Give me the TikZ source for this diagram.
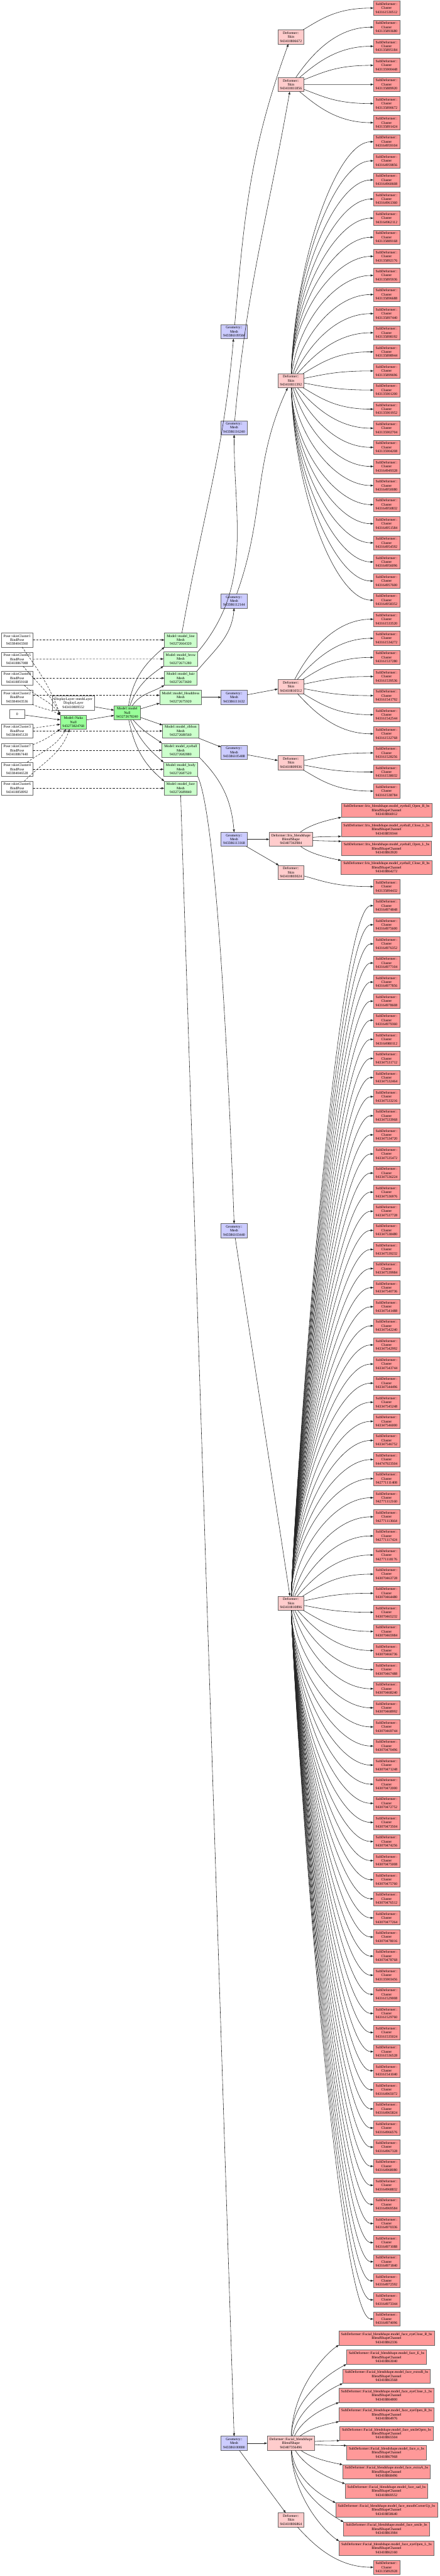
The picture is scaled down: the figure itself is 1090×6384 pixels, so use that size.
\documentclass[tikz,border=0pt]{standalone}
\usepackage{fontspec}
\setmainfont{Liberation Serif}
\usetikzlibrary{arrows.meta,calc}

\definecolor{nullgreen}{RGB}{153,255,153}
\definecolor{meshgreen}{RGB}{204,255,204}
\definecolor{geomblue}{RGB}{204,204,255}
\definecolor{defpink}{RGB}{255,204,204}
\definecolor{subred}{RGB}{255,153,153}

% row of the right-hand column
\newcommand{\rowy}[1]{20+47.33*#1}

% deformer -> cluster, leaves steeply and lands flat on the west side
\newcommand{\fanedge}[2]{%
  \draw[flow] let \p1=(#1.center), \p2=(#2.west),
    \n1={atan2(\y2-\y1,\x2-\x1)},
    \n2={max(-88,min(88,1.6*\n1))},
    \n3={min(56,max(0.5*abs(\y2-\y1),0.25*(\x2-\x1)))},
    \n4={0.45*(\x2-\x1)}
  in (#1) to[out=\n2, in=180, out distance=\n3, in distance=\n4] (#2.west);}

% blendshape -> channel, lands on a corner
\newcommand{\bsedge}[2]{%
  \draw[flow] let \p1=(#1.center), \p2=(#2),
    \n1={atan2(\y2-\y1,\x2-\x1)},
    \n2={max(-88,min(88,1.6*\n1))},
    \n3={min(56,max(0.5*abs(\y2-\y1),0.25*(\x2-\x1)))},
    \n4={0.3*(\x2-\x1)},
    \n5={180+0.5*\n1}
  in (#1) to[out=\n2, in=\n5, out distance=\n3, in distance=\n4] (#2);}

\begin{document}
\begin{tikzpicture}[
  x=0.2pt, y=-0.2pt,
  font=\fontsize{1.8}{2}\selectfont,
  blk/.style={
    draw=black!60,
    line width=0.2pt,
    align=center,
    inner xsep=1.1pt,
    inner ysep=0.4pt,
    minimum height=7pt,
    outer sep=0pt,
    text=black
  },
  posebox/.style={blk, fill=white},
  zerobox/.style={blk, fill=white, minimum height=4.6pt, minimum width=7.4pt},
  nullbox/.style={blk, fill=nullgreen},
  meshbox/.style={blk, fill=meshgreen},
  geombox/.style={blk, fill=geomblue},
  defbox/.style={blk, fill=defpink},
  subbox/.style={blk, fill=subred},
  flow/.style={
    line width=0.18pt,
    black!85,
    -{Triangle[length=1.4pt,width=1pt]}
  },
  poseflow/.style={flow, dash pattern=on 1pt off 0.65pt}
]

\path[use as bounding box, fill=white] (0,0) rectangle (1090,6384);

% bind poses
\node[posebox] (pcl1) at (42.5,1586) {Pose::skinCluster1\\BindPose\\943384043360};
\node[posebox] (pcl5) at (42.5,1633.5) {Pose::skinCluster5\\BindPose\\943418867088};
\node[posebox] (pcl8) at (42.5,1680.5) {Pose::skinCluster8\\BindPose\\943418859168};
\node[posebox] (pcl2) at (42.5,1728) {Pose::skinCluster2\\BindPose\\943384043536};
\node[zerobox] (zero) at (42.5,1769.5) {0};
\node[posebox] (pcl3) at (42.5,1811.5) {Pose::skinCluster3\\BindPose\\943384045120};
\node[posebox] (pcl7) at (42.5,1859.5) {Pose::skinCluster7\\BindPose\\943418867440};
\node[posebox] (pcl4) at (42.5,1906.5) {Pose::skinCluster4\\BindPose\\943384046528};
\node[posebox] (pcl6) at (42.5,1953.5) {Pose::skinCluster6\\BindPose\\943418858992};

\node[posebox] (dlayer) at (182,1742.5) {DisplayLayer::meshLayer\\DisplayLayer\\943410809552};
\node[nullbox] (naka) at (182,1789.5) {Model::Naka\\Null\\943273824768};
\node[nullbox] (mdl) at (315.5,1766.5) {Model::model\\Null\\943272678240};

% meshes
\node[meshbox] (mline) at (448,1586) {Model::model\_line\\Mesh\\943272664320};
\node[meshbox] (mbrow) at (448,1633) {Model::model\_brow\\Mesh\\943272671280};
\node[meshbox] (mhair) at (448,1680.5) {Model::model\_hair\\Mesh\\943272673600};
\node[meshbox] (mhead) at (448,1728) {Model::model\_Headdress\\Mesh\\943272675920};
\node[meshbox] (mribbon) at (448,1811.5) {Model::model\_ribbon\\Mesh\\943272680560};
\node[meshbox] (meyeball) at (448,1859.5) {Model::model\_eyeball\\Mesh\\943272682880};
\node[meshbox] (mbody) at (448,1906.5) {Model::model\_body\\Mesh\\943272687520};
\node[meshbox] (mface) at (448,1953.5) {Model::model\_face\\Mesh\\943272689840};

% geometry
\node[geombox] (gline) at (580.5,822) {Geometry::\\Mesh\\943386109584};
\node[geombox] (gbrow) at (580.5,1060) {Geometry::\\Mesh\\943386116240};
\node[geombox] (ghair) at (580.5,1489.5) {Geometry::\\Mesh\\943386112144};
\node[geombox] (ghead) at (580.5,1728) {Geometry::\\Mesh\\943386111632};
\node[geombox] (gribbon) at (580.5,1864.5) {Geometry::\\Mesh\\943386105488};
\node[geombox] (geyeball) at (580.5,2080) {Geometry::\\Mesh\\943386113168};
\node[geombox] (gbody) at (580.5,3050) {Geometry::\\Mesh\\943386103440};
\node[geombox] (gface) at (580.5,6055) {Geometry::\\Mesh\\943386100880};

% deformers
\node[defbox] (sk6672) at (721.5,91.5) {Deformer::\\Skin\\943410806672};
\node[defbox] (sk1856) at (721.5,209.5) {Deformer::\\Skin\\943410811856};
\node[defbox] (sk1392) at (721.5,943.5) {Deformer::\\Skin\\943410811392};
\node[defbox] (sk0512) at (721.5,1701.5) {Deformer::\\Skin\\943410810512};
\node[defbox] (sk9936) at (721.5,1890.5) {Deformer::\\Skin\\943410809936};
\node[defbox] (irisbs) at (721.5,2080) {Deformer::Iris\_blendshape\\BlendShape\\943407363984};
\node[defbox] (sk3024) at (721.5,2162) {Deformer::\\Skin\\943410803024};
\node[defbox] (sk0896) at (721.5,3973) {Deformer::\\Skin\\943410810896};
\node[defbox] (facebs) at (721.5,6055) {Deformer::Facial\_blendshape\\BlendShape\\943407356496};
\node[defbox] (sk6864) at (721.5,6245) {Deformer::\\Skin\\943410806864};

% clusters and channels
\node[subbox] (c0) at (958.5,{\rowy{0}}) {SubDeformer::\\Cluster\\943161530512};
\node[subbox] (c1) at (958.5,{\rowy{1}}) {SubDeformer::\\Cluster\\943135893680};
\node[subbox] (c2) at (958.5,{\rowy{2}}) {SubDeformer::\\Cluster\\943135895184};
\node[subbox] (c3) at (958.5,{\rowy{3}}) {SubDeformer::\\Cluster\\943135900448};
\node[subbox] (c4) at (958.5,{\rowy{4}}) {SubDeformer::\\Cluster\\943135889920};
\node[subbox] (c5) at (958.5,{\rowy{5}}) {SubDeformer::\\Cluster\\943135890672};
\node[subbox] (c6) at (958.5,{\rowy{6}}) {SubDeformer::\\Cluster\\943135891424};
\node[subbox] (c7) at (958.5,{\rowy{7}}) {SubDeformer::\\Cluster\\943164959104};
\node[subbox] (c8) at (958.5,{\rowy{8}}) {SubDeformer::\\Cluster\\943164959856};
\node[subbox] (c9) at (958.5,{\rowy{9}}) {SubDeformer::\\Cluster\\943164960608};
\node[subbox] (c10) at (958.5,{\rowy{10}}) {SubDeformer::\\Cluster\\943164961360};
\node[subbox] (c11) at (958.5,{\rowy{11}}) {SubDeformer::\\Cluster\\943164962112};
\node[subbox] (c12) at (958.5,{\rowy{12}}) {SubDeformer::\\Cluster\\943135889168};
\node[subbox] (c13) at (958.5,{\rowy{13}}) {SubDeformer::\\Cluster\\943135892176};
\node[subbox] (c14) at (958.5,{\rowy{14}}) {SubDeformer::\\Cluster\\943135895936};
\node[subbox] (c15) at (958.5,{\rowy{15}}) {SubDeformer::\\Cluster\\943135896688};
\node[subbox] (c16) at (958.5,{\rowy{16}}) {SubDeformer::\\Cluster\\943135897440};
\node[subbox] (c17) at (958.5,{\rowy{17}}) {SubDeformer::\\Cluster\\943135898192};
\node[subbox] (c18) at (958.5,{\rowy{18}}) {SubDeformer::\\Cluster\\943135898944};
\node[subbox] (c19) at (958.5,{\rowy{19}}) {SubDeformer::\\Cluster\\943135899696};
\node[subbox] (c20) at (958.5,{\rowy{20}}) {SubDeformer::\\Cluster\\943135901200};
\node[subbox] (c21) at (958.5,{\rowy{21}}) {SubDeformer::\\Cluster\\943135901952};
\node[subbox] (c22) at (958.5,{\rowy{22}}) {SubDeformer::\\Cluster\\943135902704};
\node[subbox] (c23) at (958.5,{\rowy{23}}) {SubDeformer::\\Cluster\\943135904208};
\node[subbox] (c24) at (958.5,{\rowy{24}}) {SubDeformer::\\Cluster\\943164949328};
\node[subbox] (c25) at (958.5,{\rowy{25}}) {SubDeformer::\\Cluster\\943164950080};
\node[subbox] (c26) at (958.5,{\rowy{26}}) {SubDeformer::\\Cluster\\943164950832};
\node[subbox] (c27) at (958.5,{\rowy{27}}) {SubDeformer::\\Cluster\\943164951584};
\node[subbox] (c28) at (958.5,{\rowy{28}}) {SubDeformer::\\Cluster\\943164954592};
\node[subbox] (c29) at (958.5,{\rowy{29}}) {SubDeformer::\\Cluster\\943164956096};
\node[subbox] (c30) at (958.5,{\rowy{30}}) {SubDeformer::\\Cluster\\943164957600};
\node[subbox] (c31) at (958.5,{\rowy{31}}) {SubDeformer::\\Cluster\\943164958352};
\node[subbox] (c32) at (958.5,{\rowy{32}}) {SubDeformer::\\Cluster\\943161533520};
\node[subbox] (c33) at (958.5,{\rowy{33}}) {SubDeformer::\\Cluster\\943161534272};
\node[subbox] (c34) at (958.5,{\rowy{34}}) {SubDeformer::\\Cluster\\943161537280};
\node[subbox] (c35) at (958.5,{\rowy{35}}) {SubDeformer::\\Cluster\\943161539536};
\node[subbox] (c36) at (958.5,{\rowy{36}}) {SubDeformer::\\Cluster\\943161541792};
\node[subbox] (c37) at (958.5,{\rowy{37}}) {SubDeformer::\\Cluster\\943161542544};
\node[subbox] (c38) at (958.5,{\rowy{38}}) {SubDeformer::\\Cluster\\943161532768};
\node[subbox] (c39) at (958.5,{\rowy{39}}) {SubDeformer::\\Cluster\\943161528256};
\node[subbox] (c40) at (958.5,{\rowy{40}}) {SubDeformer::\\Cluster\\943161538032};
\node[subbox] (c41) at (958.5,{\rowy{41}}) {SubDeformer::\\Cluster\\943161538784};
\node[subbox] (c42) at (958.5,{\rowy{42}}) {SubDeformer::Iris\_blendshape.model\_eyeball\_Open\_R\_bs\\BlendShapeChannel\\943418866912};
\node[subbox] (c43) at (958.5,{\rowy{43}}) {SubDeformer::Iris\_blendshape.model\_eyeball\_Close\_L\_bs\\BlendShapeChannel\\943418859344};
\node[subbox] (c44) at (958.5,{\rowy{44}}) {SubDeformer::Iris\_blendshape.model\_eyeball\_Open\_L\_bs\\BlendShapeChannel\\943418863920};
\node[subbox] (c45) at (958.5,{\rowy{45}}) {SubDeformer::Iris\_blendshape.model\_eyeball\_Close\_R\_bs\\BlendShapeChannel\\943418864272};
\node[subbox] (c46) at (958.5,{\rowy{46}}) {SubDeformer::\\Cluster\\943135894432};
\node[subbox] (c47) at (958.5,{\rowy{47}}) {SubDeformer::\\Cluster\\943164974848};
\node[subbox] (c48) at (958.5,{\rowy{48}}) {SubDeformer::\\Cluster\\943164975600};
\node[subbox] (c49) at (958.5,{\rowy{49}}) {SubDeformer::\\Cluster\\943164976352};
\node[subbox] (c50) at (958.5,{\rowy{50}}) {SubDeformer::\\Cluster\\943164977104};
\node[subbox] (c51) at (958.5,{\rowy{51}}) {SubDeformer::\\Cluster\\943164977856};
\node[subbox] (c52) at (958.5,{\rowy{52}}) {SubDeformer::\\Cluster\\943164978608};
\node[subbox] (c53) at (958.5,{\rowy{53}}) {SubDeformer::\\Cluster\\943164979360};
\node[subbox] (c54) at (958.5,{\rowy{54}}) {SubDeformer::\\Cluster\\943164980112};
\node[subbox] (c55) at (958.5,{\rowy{55}}) {SubDeformer::\\Cluster\\943347531712};
\node[subbox] (c56) at (958.5,{\rowy{56}}) {SubDeformer::\\Cluster\\943347532464};
\node[subbox] (c57) at (958.5,{\rowy{57}}) {SubDeformer::\\Cluster\\943347533216};
\node[subbox] (c58) at (958.5,{\rowy{58}}) {SubDeformer::\\Cluster\\943347533968};
\node[subbox] (c59) at (958.5,{\rowy{59}}) {SubDeformer::\\Cluster\\943347534720};
\node[subbox] (c60) at (958.5,{\rowy{60}}) {SubDeformer::\\Cluster\\943347535472};
\node[subbox] (c61) at (958.5,{\rowy{61}}) {SubDeformer::\\Cluster\\943347536224};
\node[subbox] (c62) at (958.5,{\rowy{62}}) {SubDeformer::\\Cluster\\943347536976};
\node[subbox] (c63) at (958.5,{\rowy{63}}) {SubDeformer::\\Cluster\\943347537728};
\node[subbox] (c64) at (958.5,{\rowy{64}}) {SubDeformer::\\Cluster\\943347538480};
\node[subbox] (c65) at (958.5,{\rowy{65}}) {SubDeformer::\\Cluster\\943347539232};
\node[subbox] (c66) at (958.5,{\rowy{66}}) {SubDeformer::\\Cluster\\943347539984};
\node[subbox] (c67) at (958.5,{\rowy{67}}) {SubDeformer::\\Cluster\\943347540736};
\node[subbox] (c68) at (958.5,{\rowy{68}}) {SubDeformer::\\Cluster\\943347541488};
\node[subbox] (c69) at (958.5,{\rowy{69}}) {SubDeformer::\\Cluster\\943347542240};
\node[subbox] (c70) at (958.5,{\rowy{70}}) {SubDeformer::\\Cluster\\943347542992};
\node[subbox] (c71) at (958.5,{\rowy{71}}) {SubDeformer::\\Cluster\\943347543744};
\node[subbox] (c72) at (958.5,{\rowy{72}}) {SubDeformer::\\Cluster\\943347544496};
\node[subbox] (c73) at (958.5,{\rowy{73}}) {SubDeformer::\\Cluster\\943347545248};
\node[subbox] (c74) at (958.5,{\rowy{74}}) {SubDeformer::\\Cluster\\943347546000};
\node[subbox] (c75) at (958.5,{\rowy{75}}) {SubDeformer::\\Cluster\\943347546752};
\node[subbox] (c76) at (958.5,{\rowy{76}}) {SubDeformer::\\Cluster\\944747923504};
\node[subbox] (c77) at (958.5,{\rowy{77}}) {SubDeformer::\\Cluster\\942771111408};
\node[subbox] (c78) at (958.5,{\rowy{78}}) {SubDeformer::\\Cluster\\942771112160};
\node[subbox] (c79) at (958.5,{\rowy{79}}) {SubDeformer::\\Cluster\\942771113664};
\node[subbox] (c80) at (958.5,{\rowy{80}}) {SubDeformer::\\Cluster\\942771117424};
\node[subbox] (c81) at (958.5,{\rowy{81}}) {SubDeformer::\\Cluster\\942771118176};
\node[subbox] (c82) at (958.5,{\rowy{82}}) {SubDeformer::\\Cluster\\943070463728};
\node[subbox] (c83) at (958.5,{\rowy{83}}) {SubDeformer::\\Cluster\\943070464480};
\node[subbox] (c84) at (958.5,{\rowy{84}}) {SubDeformer::\\Cluster\\943070465232};
\node[subbox] (c85) at (958.5,{\rowy{85}}) {SubDeformer::\\Cluster\\943070465984};
\node[subbox] (c86) at (958.5,{\rowy{86}}) {SubDeformer::\\Cluster\\943070466736};
\node[subbox] (c87) at (958.5,{\rowy{87}}) {SubDeformer::\\Cluster\\943070467488};
\node[subbox] (c88) at (958.5,{\rowy{88}}) {SubDeformer::\\Cluster\\943070468240};
\node[subbox] (c89) at (958.5,{\rowy{89}}) {SubDeformer::\\Cluster\\943070468992};
\node[subbox] (c90) at (958.5,{\rowy{90}}) {SubDeformer::\\Cluster\\943070469744};
\node[subbox] (c91) at (958.5,{\rowy{91}}) {SubDeformer::\\Cluster\\943070470496};
\node[subbox] (c92) at (958.5,{\rowy{92}}) {SubDeformer::\\Cluster\\943070471248};
\node[subbox] (c93) at (958.5,{\rowy{93}}) {SubDeformer::\\Cluster\\943070472000};
\node[subbox] (c94) at (958.5,{\rowy{94}}) {SubDeformer::\\Cluster\\943070472752};
\node[subbox] (c95) at (958.5,{\rowy{95}}) {SubDeformer::\\Cluster\\943070473504};
\node[subbox] (c96) at (958.5,{\rowy{96}}) {SubDeformer::\\Cluster\\943070474256};
\node[subbox] (c97) at (958.5,{\rowy{97}}) {SubDeformer::\\Cluster\\943070475008};
\node[subbox] (c98) at (958.5,{\rowy{98}}) {SubDeformer::\\Cluster\\943070475760};
\node[subbox] (c99) at (958.5,{\rowy{99}}) {SubDeformer::\\Cluster\\943070476512};
\node[subbox] (c100) at (958.5,{\rowy{100}}) {SubDeformer::\\Cluster\\943070477264};
\node[subbox] (c101) at (958.5,{\rowy{101}}) {SubDeformer::\\Cluster\\943070478016};
\node[subbox] (c102) at (958.5,{\rowy{102}}) {SubDeformer::\\Cluster\\943070478768};
\node[subbox] (c103) at (958.5,{\rowy{103}}) {SubDeformer::\\Cluster\\943135903456};
\node[subbox] (c104) at (958.5,{\rowy{104}}) {SubDeformer::\\Cluster\\943161529008};
\node[subbox] (c105) at (958.5,{\rowy{105}}) {SubDeformer::\\Cluster\\943161529760};
\node[subbox] (c106) at (958.5,{\rowy{106}}) {SubDeformer::\\Cluster\\943161535024};
\node[subbox] (c107) at (958.5,{\rowy{107}}) {SubDeformer::\\Cluster\\943161536528};
\node[subbox] (c108) at (958.5,{\rowy{108}}) {SubDeformer::\\Cluster\\943161541040};
\node[subbox] (c109) at (958.5,{\rowy{109}}) {SubDeformer::\\Cluster\\943164965072};
\node[subbox] (c110) at (958.5,{\rowy{110}}) {SubDeformer::\\Cluster\\943164965824};
\node[subbox] (c111) at (958.5,{\rowy{111}}) {SubDeformer::\\Cluster\\943164966576};
\node[subbox] (c112) at (958.5,{\rowy{112}}) {SubDeformer::\\Cluster\\943164967328};
\node[subbox] (c113) at (958.5,{\rowy{113}}) {SubDeformer::\\Cluster\\943164968080};
\node[subbox] (c114) at (958.5,{\rowy{114}}) {SubDeformer::\\Cluster\\943164968832};
\node[subbox] (c115) at (958.5,{\rowy{115}}) {SubDeformer::\\Cluster\\943164969584};
\node[subbox] (c116) at (958.5,{\rowy{116}}) {SubDeformer::\\Cluster\\943164970336};
\node[subbox] (c117) at (958.5,{\rowy{117}}) {SubDeformer::\\Cluster\\943164971088};
\node[subbox] (c118) at (958.5,{\rowy{118}}) {SubDeformer::\\Cluster\\943164971840};
\node[subbox] (c119) at (958.5,{\rowy{119}}) {SubDeformer::\\Cluster\\943164972592};
\node[subbox] (c120) at (958.5,{\rowy{120}}) {SubDeformer::\\Cluster\\943164973344};
\node[subbox] (c121) at (958.5,{\rowy{121}}) {SubDeformer::\\Cluster\\943164974096};
\node[subbox] (c122) at (958.5,{\rowy{122}}) {SubDeformer::Facial\_blendshape.model\_face\_eyeClose\_R\_bs\\BlendShapeChannel\\943418862336};
\node[subbox] (c123) at (958.5,{\rowy{123}}) {SubDeformer::Facial\_blendshape.model\_face\_E\_bs\\BlendShapeChannel\\943418863040};
\node[subbox] (c124) at (958.5,{\rowy{124}}) {SubDeformer::Facial\_blendshape.model\_face\_extraB\_bs\\BlendShapeChannel\\943418863568};
\node[subbox] (c125) at (958.5,{\rowy{125}}) {SubDeformer::Facial\_blendshape.model\_face\_eyeClose\_L\_bs\\BlendShapeChannel\\943418864800};
\node[subbox] (c126) at (958.5,{\rowy{126}}) {SubDeformer::Facial\_blendshape.model\_face\_eyeOpen\_R\_bs\\BlendShapeChannel\\943418864976};
\node[subbox] (c127) at (958.5,{\rowy{127}}) {SubDeformer::Facial\_blendshape.model\_face\_smileOpen\_bs\\BlendShapeChannel\\943418865504};
\node[subbox] (c128) at (958.5,{\rowy{128}}) {SubDeformer::Facial\_blendshape.model\_face\_o\_bs\\BlendShapeChannel\\943418867968};
\node[subbox] (c129) at (958.5,{\rowy{129}}) {SubDeformer::Facial\_blendshape.model\_face\_extraA\_bs\\BlendShapeChannel\\943418868496};
\node[subbox] (c130) at (958.5,{\rowy{130}}) {SubDeformer::Facial\_blendshape.model\_face\_sad\_bs\\BlendShapeChannel\\943418869552};
\node[subbox] (c131) at (958.5,{\rowy{131}}) {SubDeformer::Facial\_blendshape.model\_face\_mouthCornerUp\_bs\\BlendShapeChannel\\943418858640};
\node[subbox] (c132) at (958.5,{\rowy{132}}) {SubDeformer::Facial\_blendshape.model\_face\_smile\_bs\\BlendShapeChannel\\943418861984};
\node[subbox] (c133) at (958.5,{\rowy{133}}) {SubDeformer::Facial\_blendshape.model\_face\_eyeOpen\_L\_bs\\BlendShapeChannel\\943418862160};
\node[subbox] (c134) at (958.5,{\rowy{134}}) {SubDeformer::\\Cluster\\943135892928};

% poses into the null and the meshes
\draw[poseflow] (pcl1) to[out=-55, in=110] (naka.north west);
\draw[poseflow] (pcl5) to[out=-50, in=115] (naka.north west);
\draw[poseflow] (pcl8) to[out=-45, in=125] (naka.north west);
\draw[poseflow] (pcl2) to[out=-25, in=150] (naka.north west);
\draw[flow] (zero) -- ([yshift=1.1pt]naka.west);
\draw[poseflow] ([yshift=1.4pt]pcl3.east) -- ([yshift=-1.1pt]naka.west);
\draw[poseflow] (pcl7) to[out=20, in=215] (naka.south west);
\draw[poseflow] (pcl4) to[out=35, in=240] ([xshift=2.8pt]naka.south west);
\draw[poseflow] (pcl6) to[out=45, in=250] ([xshift=4.6pt]naka.south west);

\draw[poseflow] (pcl1) -- (mline);
\draw[poseflow] (pcl5) -- (mbrow);
\draw[poseflow] (pcl8) -- (mhair);
\draw[poseflow] ([yshift=1pt]pcl2.east) -- ([yshift=1pt]mhead.west);
\draw[poseflow] (pcl3) -- (mribbon);
\draw[poseflow] (pcl7) -- (meyeball);
\draw[poseflow] (pcl4) -- (mbody);
\draw[poseflow] (pcl6) -- (mface);

\draw[flow] (dlayer) -- ([yshift=1.3pt]mdl.west);
\draw[flow] (naka) -- ([yshift=-1.3pt]mdl.west);

% model to meshes
\draw[flow] (mdl) to[out=80, in=220] (mline.south west);
\draw[flow] (mdl) to[out=70, in=215] (mbrow.south west);
\draw[flow] (mdl) to[out=55, in=210] (mhair.south west);
\draw[flow] (mdl) -- ([yshift=0.6pt]mhead.south west);
\draw[flow] (mdl) -- ([yshift=-0.6pt]mribbon.north west);
\draw[flow] (mdl) to[out=-50, in=145] (meyeball.north west);
\draw[flow] (mdl) to[out=-65, in=140] (mbody.north west);
\draw[flow] (mdl) to[out=-78, in=140] (mface.north west);

% meshes to geometry
\draw[flow] (mline) to[out=80, in=-95] (gline);
\draw[flow] (mbrow.north east) to[out=50, in=-90] (gbrow.south);
\draw[flow] (mhair.north east) to[out=50, in=-95] (ghair.south);
\draw[flow] (mhead) -- (ghead);
\draw[flow] (mribbon) -- (gribbon);
\draw[flow] (meyeball.south east) to[out=-45, in=95] (geyeball.north);
\draw[flow] (mbody.south east) to[out=-65, in=92, out distance=24pt, in distance=50pt] (gbody.north);
\draw[flow] (mface.south) -- (gface.north);

% geometry to deformers
\draw[flow] (gline) to[out=85, in=-110] (sk6672);
\draw[flow] (gbrow) to[out=85, in=-100] (sk1856);
\draw[flow] (ghair) to[out=70, in=-115] (sk1392);
\draw[flow] (ghead) -- (sk0512);
\draw[flow] (gribbon) -- (sk9936);
\draw[flow] (geyeball) -- (irisbs);
\draw[flow] (geyeball) -- (sk3024);
\draw[flow] (gbody) -- (sk0896);
\draw[flow] (gface) -- (facebs);
\draw[flow] (gface) -- (sk6864);

% deformers to clusters
\fanedge{sk6672}{c0}
\fanedge{sk1856}{c1}
\fanedge{sk1856}{c2}
\fanedge{sk1856}{c3}
\fanedge{sk1856}{c4}
\fanedge{sk1856}{c5}
\fanedge{sk1856}{c6}
\fanedge{sk1392}{c7}
\fanedge{sk1392}{c8}
\fanedge{sk1392}{c9}
\fanedge{sk1392}{c10}
\fanedge{sk1392}{c11}
\fanedge{sk1392}{c12}
\fanedge{sk1392}{c13}
\fanedge{sk1392}{c14}
\fanedge{sk1392}{c15}
\fanedge{sk1392}{c16}
\fanedge{sk1392}{c17}
\fanedge{sk1392}{c18}
\fanedge{sk1392}{c19}
\fanedge{sk1392}{c20}
\fanedge{sk1392}{c21}
\fanedge{sk1392}{c22}
\fanedge{sk1392}{c23}
\fanedge{sk1392}{c24}
\fanedge{sk1392}{c25}
\fanedge{sk1392}{c26}
\fanedge{sk1392}{c27}
\fanedge{sk1392}{c28}
\fanedge{sk1392}{c29}
\fanedge{sk1392}{c30}
\fanedge{sk1392}{c31}
\fanedge{sk0512}{c32}
\fanedge{sk0512}{c33}
\fanedge{sk0512}{c34}
\fanedge{sk0512}{c35}
\fanedge{sk0512}{c36}
\fanedge{sk0512}{c37}
\fanedge{sk0512}{c38}
\fanedge{sk9936}{c39}
\fanedge{sk9936}{c40}
\fanedge{sk9936}{c41}
\bsedge{irisbs}{c42.south west}
\bsedge{irisbs}{c43.south west}
\bsedge{irisbs}{c44.north west}
\bsedge{irisbs}{c45.north west}
\fanedge{sk3024}{c46}
\fanedge{sk0896}{c47}
\fanedge{sk0896}{c48}
\fanedge{sk0896}{c49}
\fanedge{sk0896}{c50}
\fanedge{sk0896}{c51}
\fanedge{sk0896}{c52}
\fanedge{sk0896}{c53}
\fanedge{sk0896}{c54}
\fanedge{sk0896}{c55}
\fanedge{sk0896}{c56}
\fanedge{sk0896}{c57}
\fanedge{sk0896}{c58}
\fanedge{sk0896}{c59}
\fanedge{sk0896}{c60}
\fanedge{sk0896}{c61}
\fanedge{sk0896}{c62}
\fanedge{sk0896}{c63}
\fanedge{sk0896}{c64}
\fanedge{sk0896}{c65}
\fanedge{sk0896}{c66}
\fanedge{sk0896}{c67}
\fanedge{sk0896}{c68}
\fanedge{sk0896}{c69}
\fanedge{sk0896}{c70}
\fanedge{sk0896}{c71}
\fanedge{sk0896}{c72}
\fanedge{sk0896}{c73}
\fanedge{sk0896}{c74}
\fanedge{sk0896}{c75}
\fanedge{sk0896}{c76}
\fanedge{sk0896}{c77}
\fanedge{sk0896}{c78}
\fanedge{sk0896}{c79}
\fanedge{sk0896}{c80}
\fanedge{sk0896}{c81}
\fanedge{sk0896}{c82}
\fanedge{sk0896}{c83}
\fanedge{sk0896}{c84}
\fanedge{sk0896}{c85}
\fanedge{sk0896}{c86}
\fanedge{sk0896}{c87}
\fanedge{sk0896}{c88}
\fanedge{sk0896}{c89}
\fanedge{sk0896}{c90}
\fanedge{sk0896}{c91}
\fanedge{sk0896}{c92}
\fanedge{sk0896}{c93}
\fanedge{sk0896}{c94}
\fanedge{sk0896}{c95}
\fanedge{sk0896}{c96}
\fanedge{sk0896}{c97}
\fanedge{sk0896}{c98}
\fanedge{sk0896}{c99}
\fanedge{sk0896}{c100}
\fanedge{sk0896}{c101}
\fanedge{sk0896}{c102}
\fanedge{sk0896}{c103}
\fanedge{sk0896}{c104}
\fanedge{sk0896}{c105}
\fanedge{sk0896}{c106}
\fanedge{sk0896}{c107}
\fanedge{sk0896}{c108}
\fanedge{sk0896}{c109}
\fanedge{sk0896}{c110}
\fanedge{sk0896}{c111}
\fanedge{sk0896}{c112}
\fanedge{sk0896}{c113}
\fanedge{sk0896}{c114}
\fanedge{sk0896}{c115}
\fanedge{sk0896}{c116}
\fanedge{sk0896}{c117}
\fanedge{sk0896}{c118}
\fanedge{sk0896}{c119}
\fanedge{sk0896}{c120}
\fanedge{sk0896}{c121}
\bsedge{facebs}{c122.south west}
\bsedge{facebs}{c123.south west}
\bsedge{facebs}{c124.south west}
\bsedge{facebs}{c125.south west}
\bsedge{facebs}{c126.south west}
\bsedge{facebs}{c127.south west}
\bsedge{facebs}{c128.north west}
\bsedge{facebs}{c129.north west}
\bsedge{facebs}{c130.north west}
\bsedge{facebs}{c131.north west}
\bsedge{facebs}{c132.north west}
\bsedge{facebs}{c133.north west}
\fanedge{sk6864}{c134}

\end{tikzpicture}
\end{document}
